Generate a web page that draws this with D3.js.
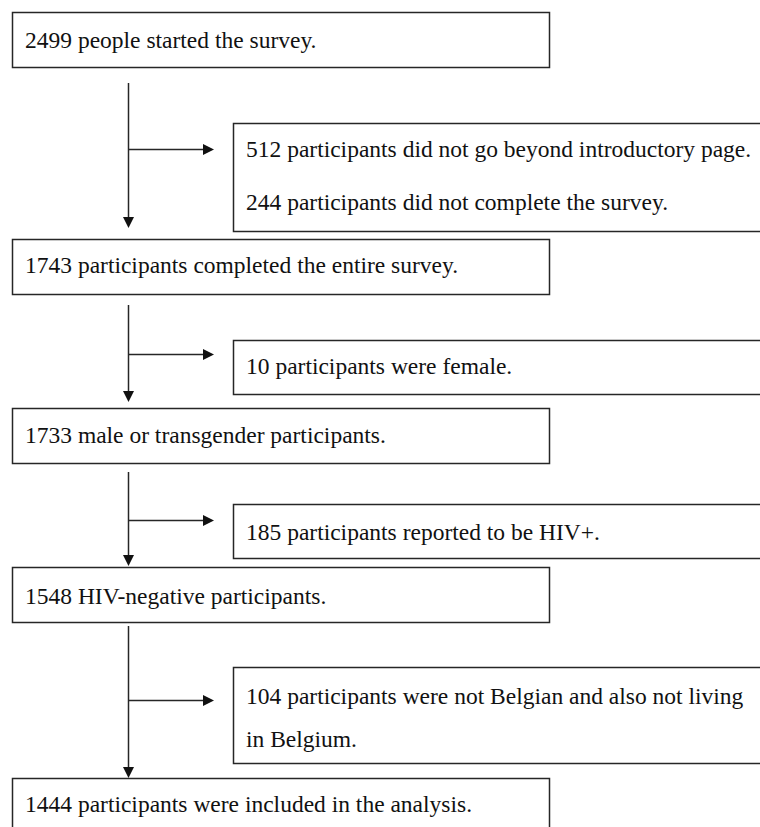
<!DOCTYPE html>
<html>
<head>
<meta charset="utf-8">
<script src="https://cdn.jsdelivr.net/npm/d3@7"></script>
<style>
  html, body { margin: 0; padding: 0; background: #fff; overflow: hidden; }
  svg { display: block; }
</style>
</head>
<body>
<svg id="chart" width="760" height="827"></svg>
<script>
// ---- data ----
const mainSteps = [
  "2499 people started the survey.",
  "1743 participants completed the entire survey.",
  "1733 male or transgender participants.",
  "1548 HIV-negative participants.",
  "1444 participants were included in the analysis."
];
const exclusionLines = [
  ["512 participants did not go beyond introductory page.", "244 participants did not complete the survey."],
  ["10 participants were female."],
  ["185 participants reported to be HIV+."],
  ["104 participants were not Belgian and also not living", "in Belgium."]
];

// ---- layout (diagram geometry, not data) ----
const W = 760, H = 827;
const mainX0 = 12, mainX1 = 549, mainH = 55;
const mainTop = [12, 239, 408, 567, 778];
const mainBaseline = [36, 34, 35, 37, 34];
const stemX = 128;
const stemStart = [83, 305, 472, 626];
const stemEnd = [228, 402, 566, 778];
const branchY = [149, 354, 520, 700];
const branchTip = 214;
const sideX0 = 233, sideX1 = 775;
const sideTop = [123, 340, 504, 667];
const sideBottom = [231, 394, 558, 763];
const sideBaselines = [[34, 87], [34], [36], [37, 80]];
const textPadMain = 25, textPadSide = 246;

const ink = "#111";
const lineInk = "#262626";
const font = "'Liberation Serif', 'Times New Roman', serif";
const fontSize = 23.5;

const svg = d3.select("#chart");

// main boxes
const mg = svg.append("g").selectAll("g.main")
  .data(mainSteps)
  .join("g")
  .attr("class", "main");

mg.append("rect")
  .attr("x", mainX0 + 0.5)
  .attr("y", (d, i) => mainTop[i] + 0.5)
  .attr("width", mainX1 - mainX0)
  .attr("height", mainH)
  .attr("fill", "#fff")
  .attr("stroke", lineInk)
  .attr("stroke-width", 1.5);

mg.append("text")
  .attr("x", textPadMain)
  .attr("y", (d, i) => mainTop[i] + mainBaseline[i])
  .attr("font-family", font)
  .attr("font-size", fontSize)
  .attr("fill", ink)
  .text(d => d);

// side (exclusion) boxes
const sg = svg.append("g").selectAll("g.side")
  .data(exclusionLines)
  .join("g")
  .attr("class", "side");

sg.append("rect")
  .attr("x", sideX0 + 0.5)
  .attr("y", (d, i) => sideTop[i] + 0.5)
  .attr("width", sideX1 - sideX0)
  .attr("height", (d, i) => sideBottom[i] - sideTop[i])
  .attr("fill", "#fff")
  .attr("stroke", lineInk)
  .attr("stroke-width", 1.5);

sg.each(function(lines, i) {
  d3.select(this).selectAll("text")
    .data(lines)
    .join("text")
    .attr("x", textPadSide)
    .attr("y", (d, j) => sideTop[i] + sideBaselines[i][j])
    .attr("font-family", font)
    .attr("font-size", fontSize)
    .attr("fill", ink)
    .text(d => d);
});

// connectors
const ah = 11, aw = 5.5;
const cg = svg.append("g").selectAll("g.conn")
  .data(exclusionLines)
  .join("g")
  .attr("class", "conn");

cg.append("line")
  .attr("x1", stemX + 0.5).attr("x2", stemX + 0.5)
  .attr("y1", (d, i) => stemStart[i])
  .attr("y2", (d, i) => stemEnd[i] - ah + 1)
  .attr("stroke", lineInk).attr("stroke-width", 1.5);

cg.append("path")
  .attr("d", (d, i) => {
    const x = stemX + 0.5, y = stemEnd[i];
    return `M${x - aw},${y - ah}L${x + aw},${y - ah}L${x},${y}Z`;
  })
  .attr("fill", ink);

cg.append("line")
  .attr("x1", stemX + 0.5).attr("x2", branchTip - ah + 1)
  .attr("y1", (d, i) => branchY[i] + 0.5)
  .attr("y2", (d, i) => branchY[i] + 0.5)
  .attr("stroke", lineInk).attr("stroke-width", 1.5);

cg.append("path")
  .attr("d", (d, i) => {
    const x = branchTip, y = branchY[i] + 0.5;
    return `M${x - ah},${y - aw}L${x - ah},${y + aw}L${x},${y}Z`;
  })
  .attr("fill", ink);
</script>
</body>
</html>
